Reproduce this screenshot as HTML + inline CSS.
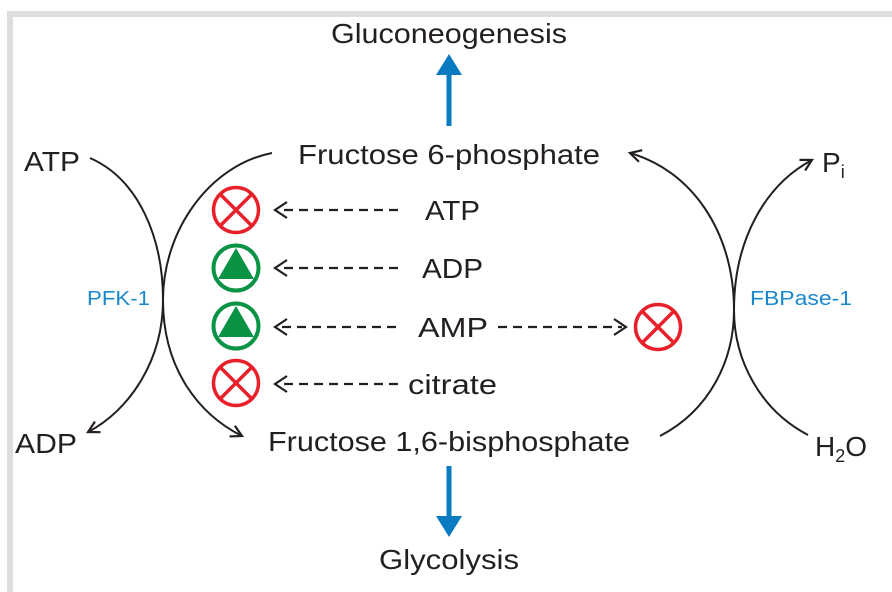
<!DOCTYPE html>
<html><head><meta charset="utf-8"><style>
html,body{margin:0;padding:0;background:#fff;}
svg{display:block;}
text{font-family:"Liberation Sans",sans-serif;fill:#231f20;}
</style></head><body>
<svg width="892" height="592" viewBox="0 0 892 592" xmlns="http://www.w3.org/2000/svg">
<defs>
<marker id="ah" markerWidth="16" markerHeight="16" refX="12" refY="7" orient="auto" markerUnits="userSpaceOnUse">
<path d="M1,1 L12,7 L1,13" fill="none" stroke="#231f20" stroke-width="2.2"/>
</marker>
</defs>
<rect x="0" y="0" width="892" height="592" fill="#fff"/>
<rect x="7" y="11" width="885" height="6" fill="#dedede"/>
<rect x="7" y="11" width="6" height="581" fill="#dedede"/>

<text x="449" y="43" font-size="28" text-anchor="middle" textLength="236" lengthAdjust="spacingAndGlyphs">Gluconeogenesis</text>
<rect x="446.5" y="68" width="5" height="58" fill="#0b7bc1"/>
<path d="M436,75 L449,54 L462,75 Z" fill="#0b7bc1"/>

<text x="298" y="164" font-size="28" textLength="302" lengthAdjust="spacingAndGlyphs">Fructose 6-phosphate</text>
<text x="24" y="171" font-size="28" textLength="56" lengthAdjust="spacingAndGlyphs">ATP</text>
<text x="15" y="453" font-size="28" textLength="62" lengthAdjust="spacingAndGlyphs">ADP</text>
<text x="822" y="172" font-size="28">P<tspan font-size="18" dy="6">i</tspan></text>
<text x="815" y="456" font-size="28">H<tspan font-size="18" dy="6">2</tspan><tspan dy="-6">O</tspan></text>

<text x="87" y="305" font-size="20" style="fill:#1a88cc" textLength="63" lengthAdjust="spacingAndGlyphs">PFK-1</text>
<text x="750" y="305" font-size="20" style="fill:#1a88cc" textLength="102" lengthAdjust="spacingAndGlyphs">FBPase-1</text>

<g fill="none" stroke="#231f20" stroke-width="2">
<path d="M90,158 C140,180 163,240 163,300 C163,360 130,410 88,432" marker-end="url(#ah)"/>
<path d="M272,153 C210,165 163,230 163,300 C163,370 200,415 242,436" marker-end="url(#ah)"/>
<path d="M660,436 C710,410 734,360 734,310 C734,230 690,170 630,153" marker-end="url(#ah)"/>
<path d="M808,435 C760,410 734,360 734,310 C734,240 765,185 812,160" marker-end="url(#ah)"/>
</g>

<g font-size="28">
<text x="425" y="220" textLength="55" lengthAdjust="spacingAndGlyphs">ATP</text>
<text x="422" y="278" textLength="61" lengthAdjust="spacingAndGlyphs">ADP</text>
<text x="418" y="337" textLength="70" lengthAdjust="spacingAndGlyphs">AMP</text>
<text x="408" y="394" textLength="89" lengthAdjust="spacingAndGlyphs">citrate</text>
</g>

<g stroke="#231f20" stroke-width="2.2" fill="none">
<g stroke-dasharray="9,6">
<line x1="398" y1="210" x2="279" y2="210"/>
<line x1="398" y1="268" x2="279" y2="268"/>
<line x1="396" y1="327" x2="279" y2="327"/>
<line x1="398" y1="384" x2="279" y2="384"/>
<line x1="498" y1="327" x2="622" y2="327"/>
</g>
<path d="M287,202 L275,210 L287,218"/>
<path d="M287,260 L275,268 L287,276"/>
<path d="M287,319 L275,327 L287,335"/>
<path d="M287,376 L275,384 L287,392"/>
<path d="M614,319 L626,327 L614,335"/>
</g>

<g stroke="#e8202a" stroke-width="3.5" fill="none">
<circle cx="236" cy="210" r="22.5"/>
<path d="M220,194 L252,226 M252,194 L220,226"/>
<circle cx="236" cy="383" r="22.5"/>
<path d="M220,367 L252,399 M252,367 L220,399"/>
<circle cx="658" cy="327" r="22.5"/>
<path d="M642,311 L674,343 M674,311 L642,343"/>
</g>
<g>
<circle cx="236" cy="268" r="22.5" fill="none" stroke="#0a9345" stroke-width="4"/>
<path d="M236,248 L218,279 L254,279 Z" fill="#0a9345"/>
<circle cx="236" cy="326" r="22.5" fill="none" stroke="#0a9345" stroke-width="4"/>
<path d="M236,306 L218,337 L254,337 Z" fill="#0a9345"/>
</g>

<text x="268" y="451" font-size="28" textLength="362" lengthAdjust="spacingAndGlyphs">Fructose 1,6-bisphosphate</text>
<rect x="446.5" y="466" width="5" height="55" fill="#0b7bc1"/>
<path d="M436,516 L449,537 L462,516 Z" fill="#0b7bc1"/>
<text x="449" y="569" font-size="28" text-anchor="middle" textLength="140" lengthAdjust="spacingAndGlyphs">Glycolysis</text>
</svg>
</body></html>
